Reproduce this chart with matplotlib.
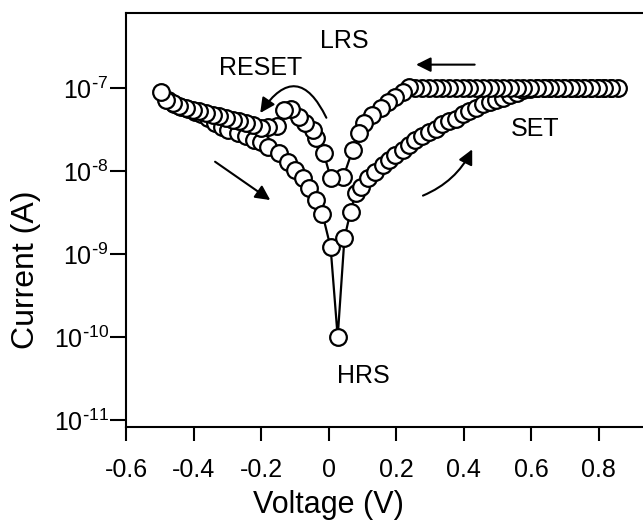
import matplotlib
matplotlib.use("Agg")
import matplotlib.pyplot as plt
import numpy as np

plt.rcParams["font.family"] = ["Liberation Sans", "DejaVu Sans"]

# return sweep -0.5 V -> 0 V (HRS)
ret_v = [-0.477, -0.457, -0.437, -0.417, -0.397, -0.377, -0.357, -0.337, -0.317, -0.297,
         -0.269, -0.246, -0.222, -0.201, -0.178, -0.148, -0.121, -0.098, -0.077, -0.059,
         -0.038, -0.018, 0.006]
ret_log = [-7.15, -7.19, -7.23, -7.26, -7.29, -7.32, -7.36, -7.42, -7.47, -7.51,
           -7.54, -7.58, -7.63, -7.65, -7.71, -7.78, -7.89, -7.99, -8.08, -8.20,
           -8.35, -8.52, -8.92]

# SET sweep 0 V -> max
set_v = [0.027, 0.047, 0.065, 0.080, 0.095, 0.118, 0.139, 0.160, 0.178, 0.198,
         0.219, 0.237, 0.257, 0.277, 0.297, 0.317, 0.337, 0.357, 0.377, 0.397,
         0.417, 0.437, 0.457, 0.477, 0.497, 0.517, 0.537, 0.557, 0.577, 0.597,
         0.617, 0.637, 0.657, 0.677, 0.697, 0.717, 0.737, 0.757, 0.777, 0.797,
         0.817, 0.837, 0.857]
set_log = [-10.0, -8.81, -8.49, -8.27, -8.19, -8.08, -8.01, -7.93, -7.87, -7.81,
           -7.75, -7.69, -7.63, -7.58, -7.53, -7.49, -7.44, -7.40, -7.37, -7.32,
           -7.28, -7.24, -7.20, -7.17, -7.14, -7.12, -7.09, -7.06, -7.03, -7.01,
           -7.00, -7.00, -7.00, -7.00, -7.00, -7.00, -7.00, -7.00, -7.00, -7.00,
           -7.00, -7.00, -7.00]

# LRS sweep max -> 0 V
lrs_v = [0.837, 0.817, 0.797, 0.777, 0.757, 0.737, 0.717, 0.697, 0.677, 0.657,
         0.637, 0.617, 0.597, 0.577, 0.557, 0.537, 0.517, 0.497, 0.477, 0.457,
         0.437, 0.417, 0.397, 0.377, 0.357, 0.337, 0.317, 0.297, 0.277, 0.257,
         0.237, 0.219, 0.198, 0.175, 0.154, 0.130, 0.104, 0.089, 0.071, 0.044]
lrs_log = [-7.00, -7.00, -7.00, -7.00, -7.00, -7.00, -7.00, -7.00, -7.00, -7.00,
           -7.00, -7.00, -7.00, -7.00, -7.00, -7.00, -7.00, -7.00, -7.00, -7.00,
           -7.00, -7.00, -7.00, -7.00, -7.00, -7.00, -7.00, -7.00, -7.00, -7.00,
           -6.99, -7.05, -7.11, -7.17, -7.24, -7.33, -7.42, -7.54, -7.75, -8.07]

# RESET sweep 0 V -> -0.5 V
reset_v = [0.006, -0.015, -0.036, -0.047, -0.071, -0.089, -0.110, -0.133, -0.152, -0.178,
           -0.201, -0.225, -0.246, -0.266, -0.284, -0.305, -0.325, -0.343, -0.364, -0.385,
           -0.402, -0.423, -0.444, -0.462, -0.482, -0.497]
reset_log = [-8.08, -7.78, -7.60, -7.51, -7.42, -7.35, -7.25, -7.27, -7.46, -7.47,
             -7.48, -7.45, -7.42, -7.40, -7.39, -7.36, -7.34, -7.33, -7.30, -7.28,
             -7.27, -7.24, -7.22, -7.18, -7.14, -7.05]

volt = np.array(ret_v + set_v + lrs_v + reset_v)
curr = 10.0 ** np.array(ret_log + set_log + lrs_log + reset_log)

fig = plt.figure(figsize=(6.43, 5.21), dpi=100)
ax = fig.add_axes([0.196, 0.1804, 0.840, 0.795])

ax.plot(volt, curr, "-o", color="black", lw=1.6, markersize=12,
        markerfacecolor="white", markeredgecolor="black", markeredgewidth=1.6)

ax.set_yscale("log")
ax.set_xlim(-0.6, 1.0)
ax.set_ylim(10 ** -11.084, 10 ** -6.096)

xticks = [-0.6, -0.4, -0.2, 0, 0.2, 0.4, 0.6, 0.8]
xlabels = ["-0.6", "-0.4", "-0.2", "0", "0.2", "0.4", "0.6", "0.8"]
ax.set_xticks(xticks)
ax.set_xticklabels(xlabels, fontsize=18)
yticks = [1e-11, 1e-10, 1e-9, 1e-8, 1e-7]
ylabels = [r"$\mathregular{10^{\text{-}11}}$", r"$\mathregular{10^{\text{-}10}}$",
           r"$\mathregular{10^{\text{-}9}}$", r"$\mathregular{10^{\text{-}8}}$",
           r"$\mathregular{10^{\text{-}7}}$"]
ax.set_yticks(yticks)
ax.set_yticklabels(ylabels, fontsize=18)
ax.yaxis.set_minor_locator(matplotlib.ticker.NullLocator())

ax.tick_params(axis="x", direction="out", length=10, width=1.5, pad=12)
ax.tick_params(axis="y", direction="out", length=11.5, width=1.5, pad=1)
for s in ax.spines.values():
    s.set_linewidth(1.5)

ax.set_xlabel("Voltage (V)", fontsize=22)
ax.set_ylabel("Current (A)", fontsize=23)
ax.xaxis.set_label_coords(0.374, -0.152)
ax.yaxis.set_label_coords(-0.158, 0.379)

ax.text(0.047, 10 ** -6.43, "LRS", fontsize=18, ha="center", va="center")
ax.text(-0.201, 10 ** -6.76, "RESET", fontsize=18, ha="center", va="center")
ax.text(0.612, 10 ** -7.49, "SET", fontsize=18, ha="center", va="center")
ax.text(0.104, 10 ** -10.47, "HRS", fontsize=18, ha="center", va="center")

arrow = dict(arrowstyle="-|>", color="black", lw=1.5, mutation_scale=22)
ax.annotate("", xy=(0.251, 10 ** -6.72), xytext=(0.441, 10 ** -6.72),
            arrowprops=arrow)
ax.annotate("", xy=(0.429, 10 ** -7.71), xytext=(0.272, 10 ** -8.31),
            arrowprops=dict(arrow, connectionstyle="arc3,rad=0.2"))
ax.annotate("", xy=(-0.207, 10 ** -7.33), xytext=(-0.003, 10 ** -7.39),
            arrowprops=dict(arrow, connectionstyle="arc3,rad=0.9"))
ax.annotate("", xy=(-0.166, 10 ** -8.37), xytext=(-0.343, 10 ** -7.87),
            arrowprops=arrow)

fig.savefig("out.png", dpi=100)
